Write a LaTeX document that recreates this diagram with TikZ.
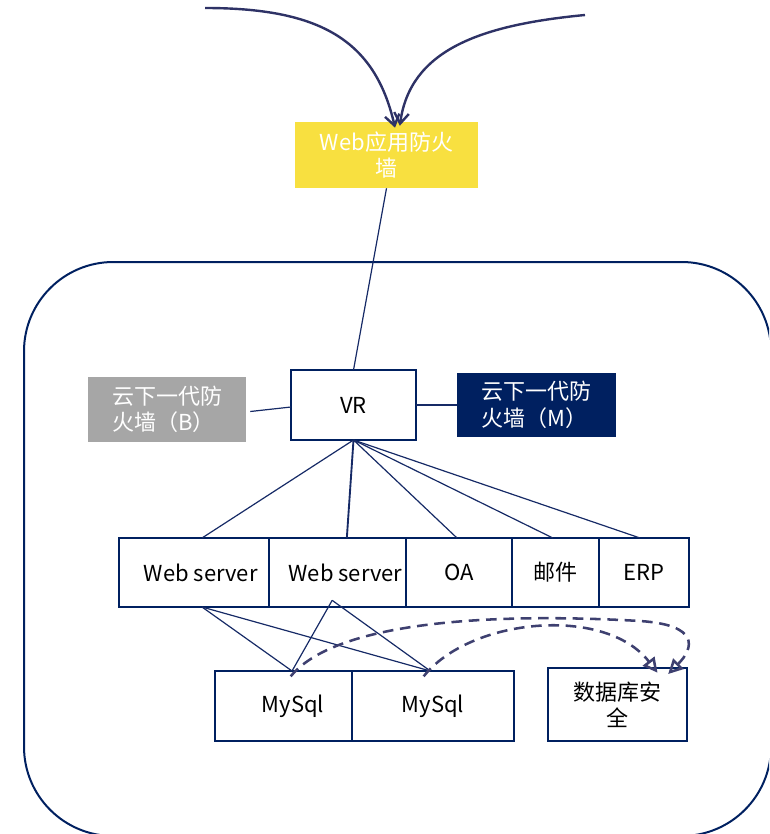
\documentclass[tikz,border=0pt]{standalone}
\usepackage{fontspec}
\setmainfont{Noto Sans CJK SC}
\usetikzlibrary{arrows.meta, positioning}
\definecolor{netnavy}{RGB}{0,32,96}
\definecolor{linknavy}{RGB}{22,42,102}
\definecolor{curveblue}{RGB}{46,50,102}
\definecolor{dashblue}{RGB}{62,64,112}
\definecolor{wafyellow}{RGB}{248,224,64}
\definecolor{fwgray}{RGB}{166,166,166}

\begin{document}
\begin{tikzpicture}[
  x=0.75pt, y=-0.75pt,
  node distance=0pt,
  box/.style={draw=netnavy, line width=1.5pt, fill=white,
              minimum height=51.75pt, align=center, inner sep=2pt,
              outer sep=0pt, font=\fontsize{16.5pt}{20pt}\selectfont},
  fwbox/.style={minimum width=118.5pt, minimum height=48.75pt,
                align=left, text=white, inner sep=2pt,
                font=\fontsize{16.5pt}{20pt}\selectfont},
  link/.style={linknavy, line width=0.9pt},
  dasharr/.style={dashblue, line width=1.9pt, dash pattern=on 8pt off 5pt,
                  -{Triangle[open, length=11pt, width=11pt]}},
  inarr/.style={curveblue, line width=1.8pt,
                -{Straight Barb[length=8pt, width=11pt]}}
]
  \useasboundingbox (0,0) rectangle (769,834);
  \clip (0,0) rectangle (769,834);
  \draw[netnavy, line width=1.5pt, rounded corners=67pt] (24,262) rectangle (771,836);

  \node[fill=wafyellow, text=white, minimum width=137.25pt, minimum height=49.5pt,
        align=center, inner sep=2pt, font=\fontsize{16.5pt}{19pt}\selectfont]
    (waf) at (386.5,155) {Web应用防火\\墙};
  \node[box, minimum width=93.75pt, minimum height=52.5pt] (vr) at (353.5,405) {VR};
  \node[fwbox, fill=fwgray] (fwb) at (167,409.5) {云下一代防\\火墙（B）};
  \node[fwbox, fill=netnavy, minimum width=119.25pt, minimum height=48pt]
    (fwm) at (536.5,405) {云下一代防\\火墙（M）};

  \node[box, minimum width=112.5pt] (ws1) at (194,572.5) {\hspace*{10pt}Web server};
  \node[box, minimum width=102.75pt, right=of ws1] (ws2) {\hspace*{12pt}Web server};
  \node[box, minimum width=79.5pt, right=of ws2] (oa) {OA};
  \node[box, minimum width=65.25pt, right=of oa] (mail) {邮件};
  \node[box, minimum width=67.5pt, right=of mail] (erp) {ERP};

  \node[box, minimum width=102.75pt, minimum height=52.5pt] (my1) at (283.5,706)
    {\hspace*{14pt}MySql};
  \node[box, minimum width=121.5pt, minimum height=52.5pt, right=of my1] (my2) {MySql};
  \node[box, minimum width=104.25pt, minimum height=54.75pt,
        font=\fontsize{16.5pt}{19.5pt}\selectfont] (dbs) at (617.5,704.5) {数据库安\\全};

  \coordinate (inL) at (205,8);
  \coordinate (inR) at (585,15);
  \draw[inarr] (inL) .. controls (320,8) and (375,40) .. ([xshift=6.4pt, yshift=-4.5pt]waf.north);
  \draw[inarr] (inR) .. controls (480,25) and (410,50) .. ([xshift=10pt, yshift=-3pt]waf.north);

  \draw[link] (waf.south) -- (vr.north);
  \draw[link] ([yshift=-1.5pt]fwb.east) ++(3pt,0) -- ([yshift=-1.5pt]vr.west);
  \draw[link] (vr.east) -- (fwm.west);

  \draw[link] (vr.south) -- ([xshift=6pt]ws1.north);
  \draw[link, line width=1.4pt] (vr.south) -- ([xshift=7pt]ws2.north);
  \draw[link] (vr.south) -- ([xshift=-1.5pt]oa.north);
  \draw[link] (vr.south) -- ([xshift=-2pt]mail.north);
  \draw[link] (vr.south) -- ([xshift=-3pt]erp.north);

  \coordinate (wsb) at ([xshift=6pt]ws1.south);
  \coordinate (apex) at ([xshift=-4pt, yshift=5pt]ws2.south);
  \coordinate (m1) at ([xshift=6.4pt]my1.north);
  \coordinate (m2) at ([xshift=-2pt]my2.north);
  \draw[link] (wsb) -- (m1);
  \draw[link] (wsb) -- (m2);
  \draw[link] (apex) -- (m1);
  \draw[link] (apex) -- (m2);

  \draw[dasharr] ([xshift=-1pt, yshift=-4pt]m1) .. controls (340,616) and (520,614)
    .. (640,621) .. controls (700,625) and (694,648) .. ([xshift=38pt, yshift=-4.5pt]dbs.north);
  \draw[dasharr] ([xshift=-5pt, yshift=-4pt]m2) .. controls (470,618) and (605,605)
    .. ([xshift=30pt, yshift=-3.5pt]dbs.north);
\end{tikzpicture}
\end{document}
